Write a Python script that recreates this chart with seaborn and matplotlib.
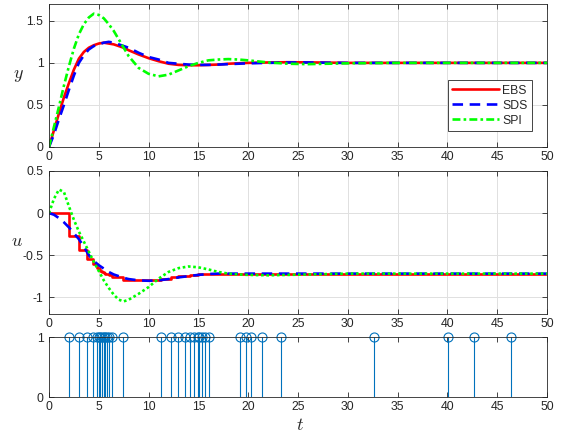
import matplotlib
matplotlib.use("Agg")
import matplotlib.pyplot as plt
import seaborn as sns

# ── Data ────────────────────────────────────────────────────
t_curve = [0, 0.5, 1, 1.5, 2, 2.5, 3, 3.5, 4, 4.5, 5, 5.5, 6, 6.5, 7, 7.5, 8, 9, 10,
           11, 12, 13, 14, 15, 16, 17, 18, 19, 20, 22, 24, 26, 28, 30, 35, 40, 45, 50]

y_ebs = [0, 0.20, 0.40, 0.59, 0.76, 0.92, 1.05, 1.13, 1.18, 1.21, 1.23, 1.24, 1.23, 1.22,
         1.20, 1.18, 1.15, 1.10, 1.056, 1.02, 0.99, 0.976, 0.972, 0.972, 0.976, 0.98,
         0.99, 0.995, 1.0, 1.005, 1.008, 1.006, 1.003, 1.0, 1.0, 1.0, 1.0, 1.0]
y_sds = [0, 0.15, 0.33, 0.50, 0.68, 0.85, 1.0, 1.09, 1.16, 1.20, 1.22, 1.24, 1.25, 1.24,
         1.22, 1.20, 1.18, 1.12, 1.07, 1.04, 1.0, 0.99, 0.98, 0.976, 0.976, 0.98,
         0.985, 0.99, 0.995, 1.0, 1.005, 1.005, 1.002, 1.0, 1.0, 1.0, 1.0, 1.0]
y_spi = [0, 0.24, 0.48, 0.73, 0.96, 1.17, 1.34, 1.46, 1.54, 1.585, 1.57, 1.53, 1.46, 1.38,
         1.28, 1.18, 1.08, 0.94, 0.87, 0.84, 0.86, 0.91, 0.96, 1.0, 1.03, 1.04,
         1.045, 1.04, 1.03, 1.005, 0.99, 0.985, 0.99, 0.995, 1.0, 1.0, 1.0, 1.0]

u_sds = [0, -0.02, -0.06, -0.11, -0.17, -0.24, -0.31, -0.40, -0.50, -0.57, -0.62, -0.66,
         -0.70, -0.73, -0.75, -0.77, -0.785, -0.80, -0.805, -0.80, -0.785, -0.765, -0.75,
         -0.735, -0.725, -0.72, -0.72, -0.72, -0.72, -0.72, -0.72, -0.72, -0.72, -0.72,
         -0.72, -0.72, -0.72, -0.72]
u_spi = [0, 0.17, 0.28, 0.25, 0.08, -0.08, -0.22, -0.34, -0.46, -0.58, -0.69, -0.80,
         -0.89, -0.97, -1.03, -1.05, -1.03, -0.96, -0.88, -0.78, -0.70, -0.655, -0.635,
         -0.645, -0.67, -0.70, -0.72, -0.73, -0.735, -0.74, -0.735, -0.73, -0.725, -0.72,
         -0.72, -0.72, -0.72, -0.72]

# event (trigger) instants
t_events = [2.0, 3.0, 3.83, 4.37, 4.77, 5.0, 5.17, 5.33, 5.5, 5.67, 5.83, 6.03, 6.33, 7.43,
            11.2, 12.2, 13.0, 13.63, 14.17, 14.6, 14.93, 15.1, 15.37, 15.63, 16.1,
            19.17, 19.77, 20.33, 21.4, 23.33, 32.67, 40.1, 42.67, 46.43]
events_flag = [1] * len(t_events)

# EBS control held between events (t = 0, events..., 50)
t_ebs_u = [0] + t_events + [50]
u_ebs = [0, -0.27, -0.44, -0.55, -0.60, -0.65, -0.67, -0.69, -0.70, -0.71, -0.72, -0.73,
         -0.74, -0.76, -0.80, -0.78, -0.76, -0.75, -0.745, -0.74, -0.735, -0.73, -0.73,
         -0.725, -0.725, -0.72, -0.72, -0.72, -0.72, -0.72, -0.72, -0.725, -0.72, -0.72,
         -0.72, -0.72]

# ── Style ───────────────────────────────────────────────────
sns.set_theme(style="ticks")
plt.rcParams["font.family"] = ["Liberation Sans", "DejaVu Sans"]
plt.rcParams["mathtext.fontset"] = "cm"
plt.rcParams["axes.unicode_minus"] = False

RED, BLUE, GREEN = "#FF0000", "#0000FF", "#00FF00"
STEM = "#0072BD"
LW = 1.9

fig = plt.figure(figsize=(5.69, 4.34), dpi=100)
W, H = 569, 434
left, right = 49, 547


def box(top, bottom):
    return [left / W, 1 - bottom / H, (right - left) / W, (bottom - top) / H]


ax1 = fig.add_axes(box(4, 147))
ax2 = fig.add_axes(box(171, 314))
ax3 = fig.add_axes(box(337, 397))

for ax in (ax1, ax2, ax3):
    ax.set_xlim(0, 50)
    ax.set_xticks(range(0, 51, 5))
    ax.tick_params(direction="in", top=True, right=True, length=3.5, width=0.6,
                   labelsize=8.8, colors="#262626", pad=4)
    ax.tick_params(axis="x", pad=3)
    for s in ax.spines.values():
        s.set_visible(True)
        s.set_color("#262626")
        s.set_linewidth(0.6)

for ax in (ax1, ax2):
    ax.grid(True, color="#e0e0e0", linewidth=0.7)
    ax.set_axisbelow(True)

# ── y ───────────────────────────────────────────────────────
sns.lineplot(x=t_curve, y=y_ebs, color=RED, lw=LW, label="EBS", ax=ax1)
sns.lineplot(x=t_curve, y=y_sds, color=BLUE, lw=LW, linestyle=(0, (4, 2.5)), label="SDS", ax=ax1)
sns.lineplot(x=t_curve, y=y_spi, color=GREEN, lw=LW, linestyle=(0, (3, 1.2, 1, 1.2)), label="SPI", ax=ax1)
ax1.set_ylim(0, 1.7)
ax1.set_yticks([0, 0.5, 1, 1.5])
ax1.set_yticklabels(["0", "0.5", "1", "1.5"])
leg = ax1.legend(loc="lower right", bbox_to_anchor=(0.970, 0.112), fontsize=8.8,
                 handlelength=3.8, frameon=True, fancybox=False, edgecolor="#262626",
                 framealpha=1, borderpad=0.35, labelspacing=0.25, handletextpad=0.3,
                 borderaxespad=0)
leg.get_frame().set_linewidth(0.6)

# ── u ───────────────────────────────────────────────────────
sns.lineplot(x=t_ebs_u, y=u_ebs, color=RED, lw=LW, drawstyle="steps-post", ax=ax2)
sns.lineplot(x=t_curve, y=u_sds, color=BLUE, lw=LW, linestyle=(0, (4, 2.5)), ax=ax2)
sns.lineplot(x=t_curve, y=u_spi, color=GREEN, lw=LW, linestyle=(0, (1, 1)), ax=ax2)
ax2.set_ylim(-1.2, 0.5)
ax2.set_yticks([-1, -0.5, 0, 0.5])
ax2.set_yticklabels(["-1", "-0.5", "0", "0.5"])

# ── events ──────────────────────────────────────────────────
markerline, stemlines, baseline = ax3.stem(t_events, events_flag)
markerline.set_markerfacecolor("none")
markerline.set_markeredgecolor(STEM)
markerline.set_markersize(6.5)
markerline.set_markeredgewidth(0.8)
markerline.set_clip_on(False)
stemlines.set_color(STEM)
stemlines.set_linewidth(0.8)
baseline.set_visible(False)
ax3.set_ylim(0, 1)
ax3.set_yticks([0, 1])
ax3.set_yticklabels(["0", "1"])

for ax in (ax1, ax2, ax3):
    ax.set_xlabel("")
    ax.set_ylabel("")

fig.text(18 / W, 1 - 75 / H, "$y$", fontsize=13, ha="center", va="center")
fig.text(17 / W, 1 - 242 / H, "$u$", fontsize=13, ha="center", va="center")
fig.text(300 / W, 1 - 426 / H, "$t$", fontsize=13, ha="center", va="center")

fig.savefig("out.png", dpi=100)
